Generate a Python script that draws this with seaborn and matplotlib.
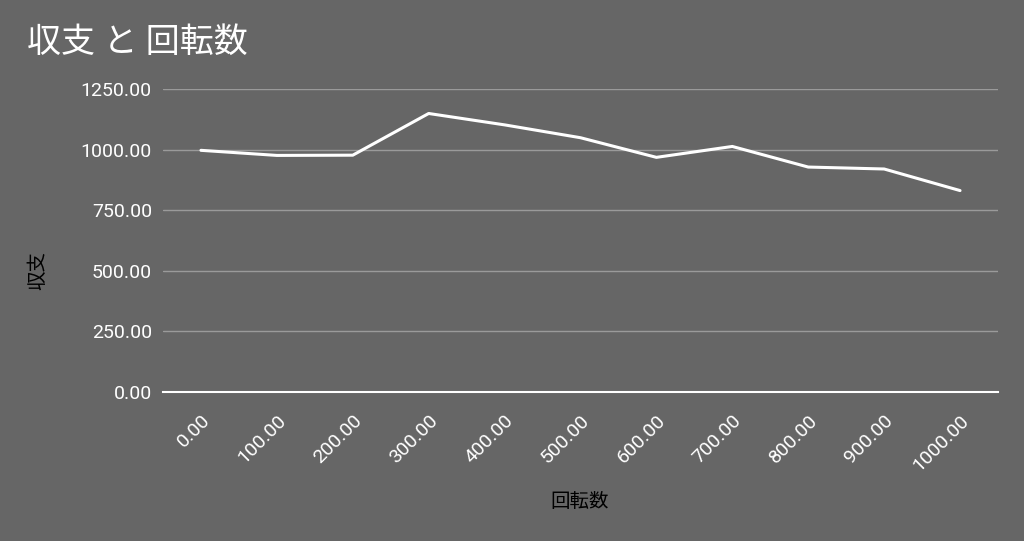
import matplotlib
matplotlib.use("Agg")
import matplotlib.pyplot as plt
import seaborn as sns
import pandas as pd

# data
kaiten = [0, 100, 200, 300, 400, 500, 600, 700, 800, 900, 1000]
shushi = [997, 976, 977, 1149, 1102, 1049, 968, 1013, 928, 920, 831]
y_ticks = [0, 250, 500, 750, 1000, 1250]

df = pd.DataFrame({"回転数": kaiten, "収支": shushi})

sns.set_style("dark")
fonts = ["Roboto", "Noto Sans CJK JP", "DejaVu Sans"]
plt.rcParams["font.family"] = fonts

bg = "#666666"
fig = plt.figure(figsize=(10.24, 5.41), dpi=100, facecolor=bg)
ax = fig.add_axes([163 / 1024, 1 - 392 / 541, (998 - 163) / 1024, (392 - 89) / 541])
ax.set_facecolor(bg)

sns.lineplot(x="回転数", y="収支", data=df, ax=ax, color="white", linewidth=2.2)

ax.set_xlim(-50, 1050)
ax.set_ylim(0, 1250)
ax.set_yticks(y_ticks)
ax.set_yticklabels([f"{v:.2f}" for v in y_ticks], color="white", fontsize=14)
ax.set_xticks(kaiten)
ax.set_xticklabels([f"{v:.2f}" for v in kaiten], color="white", fontsize=14,
                   rotation=45, ha="right", rotation_mode="anchor")
ax.tick_params(axis="y", length=0, pad=8)
ax.tick_params(axis="x", length=0, pad=14)

ax.grid(True, axis="y", color="#9a9a9a", linewidth=1)
ax.grid(False, axis="x")
for s in ["left", "right", "top"]:
    ax.spines[s].set_visible(False)
ax.spines["bottom"].set_color("white")
ax.spines["bottom"].set_linewidth(1.5)
ax.set_axisbelow(True)

ax.set_xlabel("")
ax.set_ylabel("")
fig.text(580 / 1024, 1 - 502 / 541, "回転数", ha="center", va="center", fontsize=14, color="black")
fig.text(38 / 1024, 1 - 270 / 541, "収支", ha="center", va="center", rotation=90, fontsize=14, color="black")
fig.text(27 / 1024, 1 - 43 / 541, "収支 と 回転数", ha="left", va="center", fontsize=24.5, color="white")

fig.savefig("out.png", dpi=100, facecolor=bg)
